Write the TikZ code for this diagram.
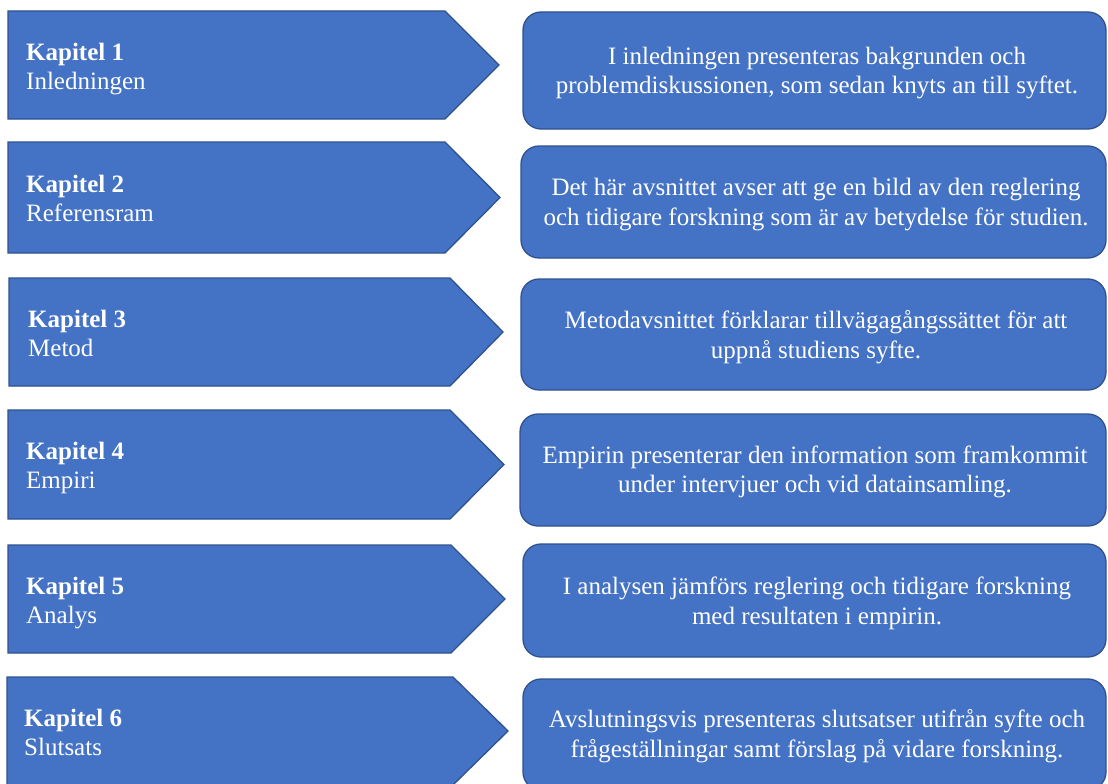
\documentclass[tikz,border=0pt]{standalone}
\usepackage{fontspec}
\setmainfont{Liberation Serif}
\definecolor{fillblue}{HTML}{4472C4}
\definecolor{lineblue}{HTML}{2F528F}
\newcommand\vs{\rule[-6pt]{0pt}{23pt}}
\begin{document}
\begin{tikzpicture}[x=1pt,y=-1pt,
  shapestyle/.style={fill=fillblue,draw=lineblue,line width=1.3pt},
  boxstyle/.style={shapestyle,rounded corners=18pt},
  chap/.style={text=white,font=\fontsize{25}{29}\selectfont,inner sep=0pt,anchor=west,align=left},
  desc/.style={text=white,font=\fontsize{25}{29.5}\selectfont,inner sep=0pt,align=center}]
\useasboundingbox (0,0) rectangle (1108,784);
\clip (0,0) rectangle (1108,784);

% Row 1
\draw[shapestyle] (8,11) -- (445,11) -- (499,65) -- (445,119) -- (8,119) -- cycle;
\draw[boxstyle] (523,12) rectangle (1106,129);
\node[chap] (k1) at (26,69) {\textbf{Kapitel 1}\vs\\Inledningen\vs};
\node[desc] (d1) at (817,73.5) {I inledningen presenteras bakgrunden och\vs\\problemdiskussionen, som sedan knyts an till syftet.\vs};

% Row 2
\draw[shapestyle] (8,142) -- (445,142) -- (500,197.5) -- (445,253) -- (8,253) -- cycle;
\draw[boxstyle] (521,146) rectangle (1106,258);
\node[chap] (k2) at (26,201.5) {\textbf{Kapitel 2}\vs\\Referensram\vs};
\node[desc] (d2) at (816,205) {Det här avsnittet avser att ge en bild av den reglering\vs\\och tidigare forskning som är av betydelse för studien.\vs};

% Row 3
\draw[shapestyle] (9,278) -- (450,278) -- (503,332) -- (450,386) -- (9,386) -- cycle;
\draw[boxstyle] (521,279) rectangle (1106,390);
\node[chap] (k3) at (28,336) {\textbf{Kapitel 3}\vs\\Metod\vs};
\node[desc] (d3) at (816,337.5) {Metodavsnittet förklarar tillvägagångssättet för att\vs\\uppnå studiens syfte.\vs};

% Row 4
\draw[shapestyle] (8,410) -- (450,410) -- (504,464.5) -- (450,519) -- (8,519) -- cycle;
\draw[boxstyle] (520,414) rectangle (1106,526);
\node[chap] (k4) at (26,468.5) {\textbf{Kapitel 4}\vs\\Empiri\vs};
\node[desc] (d4) at (815,472) {Empirin presenterar den information som framkommit\vs\\under intervjuer och vid datainsamling.\vs};

% Row 5
\draw[shapestyle] (8,545) -- (451,545) -- (505,599) -- (451,653) -- (8,653) -- cycle;
\draw[boxstyle] (523,544) rectangle (1106,657);
\node[chap] (k5) at (26,603) {\textbf{Kapitel 5}\vs\\Analys\vs};
\node[desc] (d5) at (817,603.5) {I analysen jämförs reglering och tidigare forskning\vs\\med resultaten i empirin.\vs};

% Row 6
\draw[shapestyle] (7,677) -- (453,677) -- (508,731) -- (453,785) -- (7,785) -- cycle;
\draw[boxstyle] (523,679) rectangle (1106,790);
\node[chap] (k6) at (24,735) {\textbf{Kapitel 6}\vs\\Slutsats\vs};
\node[desc] (d6) at (817,736.5) {Avslutningsvis presenteras slutsatser utifrån syfte och\vs\\frågeställningar samt förslag på vidare forskning.\vs};
\end{tikzpicture}
\end{document}
